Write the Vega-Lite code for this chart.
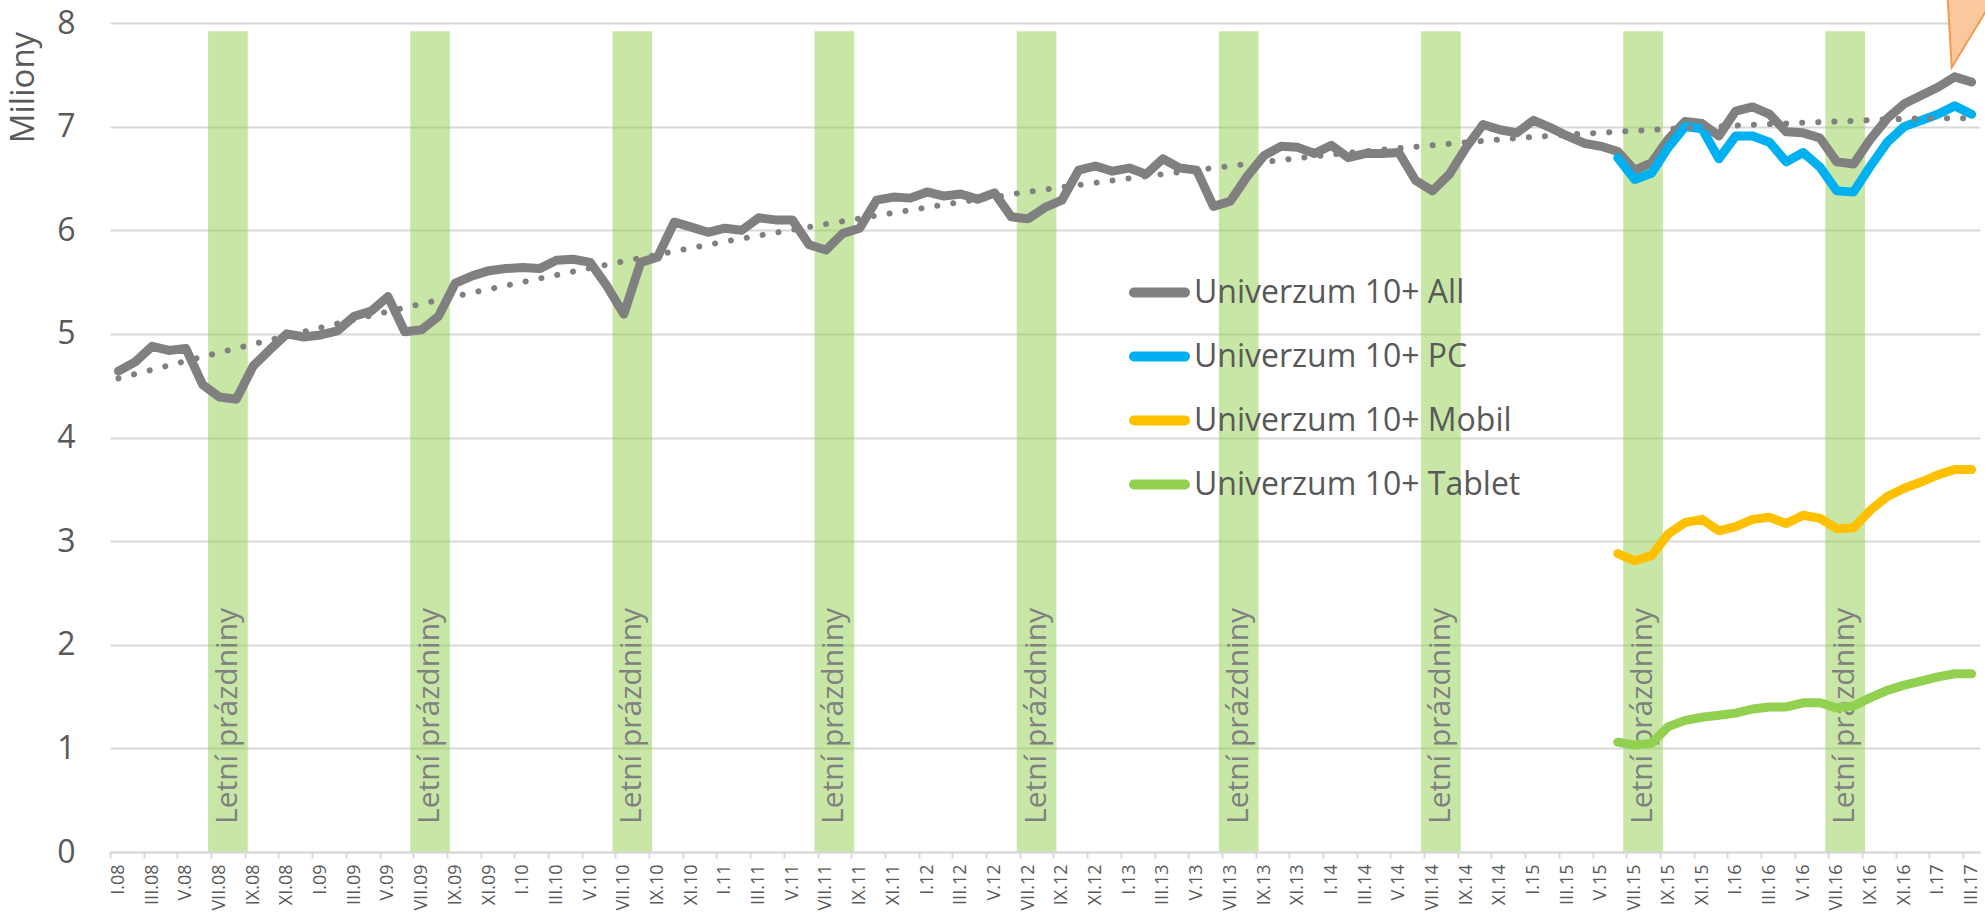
{
  "$schema": "https://vega.github.io/schema/vega-lite/v6.json",
  "width": 1870,
  "height": 829,
  "autosize": {"type": "none"},
  "padding": {"left": 110, "top": 23, "right": 5, "bottom": 63},
  "background": "white",
  "config": {"font": "Open Sans", "view": {"stroke": null}},
  "datasets": {
    "summers": [
      {"m": "VII.08", "b": "IX.08", "v": 7.92, "t": "Letní prázdniny"},
      {"m": "VII.09", "b": "IX.09", "v": 7.92, "t": "Letní prázdniny"},
      {"m": "VII.10", "b": "IX.10", "v": 7.92, "t": "Letní prázdniny"},
      {"m": "VII.11", "b": "IX.11", "v": 7.92, "t": "Letní prázdniny"},
      {"m": "VII.12", "b": "IX.12", "v": 7.92, "t": "Letní prázdniny"},
      {"m": "VII.13", "b": "IX.13", "v": 7.92, "t": "Letní prázdniny"},
      {"m": "VII.14", "b": "IX.14", "v": 7.92, "t": "Letní prázdniny"},
      {"m": "VII.15", "b": "IX.15", "v": 7.92, "t": "Letní prázdniny"},
      {"m": "VII.16", "b": "IX.16", "v": 7.92, "t": "Letní prázdniny"}
    ],
    "trend": [
      {"m": "I.08", "v": 4.57}, {"m": "VII.08", "v": 4.82}, {"m": "I.09", "v": 5.06}, {"m": "VII.09", "v": 5.29},
      {"m": "I.10", "v": 5.50}, {"m": "VII.10", "v": 5.70}, {"m": "I.11", "v": 5.89}, {"m": "VII.11", "v": 6.06},
      {"m": "I.12", "v": 6.22}, {"m": "VII.12", "v": 6.37}, {"m": "I.13", "v": 6.50}, {"m": "VII.13", "v": 6.62},
      {"m": "I.14", "v": 6.73}, {"m": "VII.14", "v": 6.82}, {"m": "I.15", "v": 6.90}, {"m": "VII.15", "v": 6.96},
      {"m": "I.16", "v": 7.01}, {"m": "VII.16", "v": 7.05}, {"m": "I.17", "v": 7.08}, {"m": "III.17", "v": 7.08}
    ],
    "callout": [{"m": "II.17", "v": 7.57}],
    "series": [
      {"m": "I.08", "s": "Univerzum 10+ All", "v": 4.64}, {"m": "II.08", "s": "Univerzum 10+ All", "v": 4.73}, {"m": "III.08", "s": "Univerzum 10+ All", "v": 4.88}, {"m": "IV.08", "s": "Univerzum 10+ All", "v": 4.84}, {"m": "V.08", "s": "Univerzum 10+ All", "v": 4.86}, {"m": "VI.08", "s": "Univerzum 10+ All", "v": 4.51}, {"m": "VII.08", "s": "Univerzum 10+ All", "v": 4.39}, {"m": "VIII.08", "s": "Univerzum 10+ All", "v": 4.37}, {"m": "IX.08", "s": "Univerzum 10+ All", "v": 4.69}, {"m": "X.08", "s": "Univerzum 10+ All", "v": 4.85}, {"m": "XI.08", "s": "Univerzum 10+ All", "v": 5.00}, {"m": "XII.08", "s": "Univerzum 10+ All", "v": 4.97},
      {"m": "I.09", "s": "Univerzum 10+ All", "v": 4.99}, {"m": "II.09", "s": "Univerzum 10+ All", "v": 5.03}, {"m": "III.09", "s": "Univerzum 10+ All", "v": 5.17}, {"m": "IV.09", "s": "Univerzum 10+ All", "v": 5.22}, {"m": "V.09", "s": "Univerzum 10+ All", "v": 5.36}, {"m": "VI.09", "s": "Univerzum 10+ All", "v": 5.02}, {"m": "VII.09", "s": "Univerzum 10+ All", "v": 5.04}, {"m": "VIII.09", "s": "Univerzum 10+ All", "v": 5.17}, {"m": "IX.09", "s": "Univerzum 10+ All", "v": 5.49}, {"m": "X.09", "s": "Univerzum 10+ All", "v": 5.56}, {"m": "XI.09", "s": "Univerzum 10+ All", "v": 5.61}, {"m": "XII.09", "s": "Univerzum 10+ All", "v": 5.63},
      {"m": "I.10", "s": "Univerzum 10+ All", "v": 5.64}, {"m": "II.10", "s": "Univerzum 10+ All", "v": 5.63}, {"m": "III.10", "s": "Univerzum 10+ All", "v": 5.71}, {"m": "IV.10", "s": "Univerzum 10+ All", "v": 5.72}, {"m": "V.10", "s": "Univerzum 10+ All", "v": 5.69}, {"m": "VI.10", "s": "Univerzum 10+ All", "v": 5.46}, {"m": "VII.10", "s": "Univerzum 10+ All", "v": 5.19}, {"m": "VIII.10", "s": "Univerzum 10+ All", "v": 5.69}, {"m": "IX.10", "s": "Univerzum 10+ All", "v": 5.74}, {"m": "X.10", "s": "Univerzum 10+ All", "v": 6.08}, {"m": "XI.10", "s": "Univerzum 10+ All", "v": 6.03}, {"m": "XII.10", "s": "Univerzum 10+ All", "v": 5.98},
      {"m": "I.11", "s": "Univerzum 10+ All", "v": 6.02}, {"m": "II.11", "s": "Univerzum 10+ All", "v": 6.00}, {"m": "III.11", "s": "Univerzum 10+ All", "v": 6.12}, {"m": "IV.11", "s": "Univerzum 10+ All", "v": 6.10}, {"m": "V.11", "s": "Univerzum 10+ All", "v": 6.10}, {"m": "VI.11", "s": "Univerzum 10+ All", "v": 5.86}, {"m": "VII.11", "s": "Univerzum 10+ All", "v": 5.81}, {"m": "VIII.11", "s": "Univerzum 10+ All", "v": 5.97}, {"m": "IX.11", "s": "Univerzum 10+ All", "v": 6.02}, {"m": "X.11", "s": "Univerzum 10+ All", "v": 6.29}, {"m": "XI.11", "s": "Univerzum 10+ All", "v": 6.32}, {"m": "XII.11", "s": "Univerzum 10+ All", "v": 6.31},
      {"m": "I.12", "s": "Univerzum 10+ All", "v": 6.37}, {"m": "II.12", "s": "Univerzum 10+ All", "v": 6.33}, {"m": "III.12", "s": "Univerzum 10+ All", "v": 6.35}, {"m": "IV.12", "s": "Univerzum 10+ All", "v": 6.30}, {"m": "V.12", "s": "Univerzum 10+ All", "v": 6.36}, {"m": "VI.12", "s": "Univerzum 10+ All", "v": 6.13}, {"m": "VII.12", "s": "Univerzum 10+ All", "v": 6.11}, {"m": "VIII.12", "s": "Univerzum 10+ All", "v": 6.22}, {"m": "IX.12", "s": "Univerzum 10+ All", "v": 6.29}, {"m": "X.12", "s": "Univerzum 10+ All", "v": 6.58}, {"m": "XI.12", "s": "Univerzum 10+ All", "v": 6.62}, {"m": "XII.12", "s": "Univerzum 10+ All", "v": 6.57},
      {"m": "I.13", "s": "Univerzum 10+ All", "v": 6.60}, {"m": "II.13", "s": "Univerzum 10+ All", "v": 6.54}, {"m": "III.13", "s": "Univerzum 10+ All", "v": 6.69}, {"m": "IV.13", "s": "Univerzum 10+ All", "v": 6.60}, {"m": "V.13", "s": "Univerzum 10+ All", "v": 6.58}, {"m": "VI.13", "s": "Univerzum 10+ All", "v": 6.23}, {"m": "VII.13", "s": "Univerzum 10+ All", "v": 6.28}, {"m": "VIII.13", "s": "Univerzum 10+ All", "v": 6.52}, {"m": "IX.13", "s": "Univerzum 10+ All", "v": 6.72}, {"m": "X.13", "s": "Univerzum 10+ All", "v": 6.81}, {"m": "XI.13", "s": "Univerzum 10+ All", "v": 6.80}, {"m": "XII.13", "s": "Univerzum 10+ All", "v": 6.74},
      {"m": "I.14", "s": "Univerzum 10+ All", "v": 6.82}, {"m": "II.14", "s": "Univerzum 10+ All", "v": 6.70}, {"m": "III.14", "s": "Univerzum 10+ All", "v": 6.74}, {"m": "IV.14", "s": "Univerzum 10+ All", "v": 6.74}, {"m": "V.14", "s": "Univerzum 10+ All", "v": 6.75}, {"m": "VI.14", "s": "Univerzum 10+ All", "v": 6.48}, {"m": "VII.14", "s": "Univerzum 10+ All", "v": 6.38}, {"m": "VIII.14", "s": "Univerzum 10+ All", "v": 6.54}, {"m": "IX.14", "s": "Univerzum 10+ All", "v": 6.80}, {"m": "X.14", "s": "Univerzum 10+ All", "v": 7.02}, {"m": "XI.14", "s": "Univerzum 10+ All", "v": 6.97}, {"m": "XII.14", "s": "Univerzum 10+ All", "v": 6.94},
      {"m": "I.15", "s": "Univerzum 10+ All", "v": 7.06}, {"m": "II.15", "s": "Univerzum 10+ All", "v": 6.99}, {"m": "III.15", "s": "Univerzum 10+ All", "v": 6.91}, {"m": "IV.15", "s": "Univerzum 10+ All", "v": 6.84}, {"m": "V.15", "s": "Univerzum 10+ All", "v": 6.81}, {"m": "VI.15", "s": "Univerzum 10+ All", "v": 6.76}, {"m": "VII.15", "s": "Univerzum 10+ All", "v": 6.58}, {"m": "VIII.15", "s": "Univerzum 10+ All", "v": 6.65}, {"m": "IX.15", "s": "Univerzum 10+ All", "v": 6.88}, {"m": "X.15", "s": "Univerzum 10+ All", "v": 7.05}, {"m": "XI.15", "s": "Univerzum 10+ All", "v": 7.03}, {"m": "XII.15", "s": "Univerzum 10+ All", "v": 6.91},
      {"m": "I.16", "s": "Univerzum 10+ All", "v": 7.15}, {"m": "II.16", "s": "Univerzum 10+ All", "v": 7.19}, {"m": "III.16", "s": "Univerzum 10+ All", "v": 7.12}, {"m": "IV.16", "s": "Univerzum 10+ All", "v": 6.95}, {"m": "V.16", "s": "Univerzum 10+ All", "v": 6.94}, {"m": "VI.16", "s": "Univerzum 10+ All", "v": 6.89}, {"m": "VII.16", "s": "Univerzum 10+ All", "v": 6.66}, {"m": "VIII.16", "s": "Univerzum 10+ All", "v": 6.64}, {"m": "IX.16", "s": "Univerzum 10+ All", "v": 6.88}, {"m": "X.16", "s": "Univerzum 10+ All", "v": 7.08}, {"m": "XI.16", "s": "Univerzum 10+ All", "v": 7.22}, {"m": "XII.16", "s": "Univerzum 10+ All", "v": 7.30},
      {"m": "I.17", "s": "Univerzum 10+ All", "v": 7.38}, {"m": "II.17", "s": "Univerzum 10+ All", "v": 7.48}, {"m": "III.17", "s": "Univerzum 10+ All", "v": 7.43},
      {"m": "VI.15", "s": "Univerzum 10+ PC", "v": 6.70}, {"m": "VII.15", "s": "Univerzum 10+ PC", "v": 6.49}, {"m": "VIII.15", "s": "Univerzum 10+ PC", "v": 6.55}, {"m": "IX.15", "s": "Univerzum 10+ PC", "v": 6.80}, {"m": "X.15", "s": "Univerzum 10+ PC", "v": 7.00}, {"m": "XI.15", "s": "Univerzum 10+ PC", "v": 6.98}, {"m": "XII.15", "s": "Univerzum 10+ PC", "v": 6.69}, {"m": "I.16", "s": "Univerzum 10+ PC", "v": 6.91}, {"m": "II.16", "s": "Univerzum 10+ PC", "v": 6.91}, {"m": "III.16", "s": "Univerzum 10+ PC", "v": 6.85}, {"m": "IV.16", "s": "Univerzum 10+ PC", "v": 6.66}, {"m": "V.16", "s": "Univerzum 10+ PC", "v": 6.75}, {"m": "VI.16", "s": "Univerzum 10+ PC", "v": 6.61}, {"m": "VII.16", "s": "Univerzum 10+ PC", "v": 6.38}, {"m": "VIII.16", "s": "Univerzum 10+ PC", "v": 6.37}, {"m": "IX.16", "s": "Univerzum 10+ PC", "v": 6.62}, {"m": "X.16", "s": "Univerzum 10+ PC", "v": 6.85}, {"m": "XI.16", "s": "Univerzum 10+ PC", "v": 7.00}, {"m": "XII.16", "s": "Univerzum 10+ PC", "v": 7.06}, {"m": "I.17", "s": "Univerzum 10+ PC", "v": 7.12}, {"m": "II.17", "s": "Univerzum 10+ PC", "v": 7.20}, {"m": "III.17", "s": "Univerzum 10+ PC", "v": 7.12},
      {"m": "VI.15", "s": "Univerzum 10+ Mobil", "v": 2.88}, {"m": "VII.15", "s": "Univerzum 10+ Mobil", "v": 2.81}, {"m": "VIII.15", "s": "Univerzum 10+ Mobil", "v": 2.86}, {"m": "IX.15", "s": "Univerzum 10+ Mobil", "v": 3.07}, {"m": "X.15", "s": "Univerzum 10+ Mobil", "v": 3.18}, {"m": "XI.15", "s": "Univerzum 10+ Mobil", "v": 3.21}, {"m": "XII.15", "s": "Univerzum 10+ Mobil", "v": 3.10}, {"m": "I.16", "s": "Univerzum 10+ Mobil", "v": 3.14}, {"m": "II.16", "s": "Univerzum 10+ Mobil", "v": 3.21}, {"m": "III.16", "s": "Univerzum 10+ Mobil", "v": 3.23}, {"m": "IV.16", "s": "Univerzum 10+ Mobil", "v": 3.17}, {"m": "V.16", "s": "Univerzum 10+ Mobil", "v": 3.25}, {"m": "VI.16", "s": "Univerzum 10+ Mobil", "v": 3.22}, {"m": "VII.16", "s": "Univerzum 10+ Mobil", "v": 3.12}, {"m": "VIII.16", "s": "Univerzum 10+ Mobil", "v": 3.13}, {"m": "IX.16", "s": "Univerzum 10+ Mobil", "v": 3.30}, {"m": "X.16", "s": "Univerzum 10+ Mobil", "v": 3.43}, {"m": "XI.16", "s": "Univerzum 10+ Mobil", "v": 3.51}, {"m": "XII.16", "s": "Univerzum 10+ Mobil", "v": 3.57}, {"m": "I.17", "s": "Univerzum 10+ Mobil", "v": 3.64}, {"m": "II.17", "s": "Univerzum 10+ Mobil", "v": 3.69}, {"m": "III.17", "s": "Univerzum 10+ Mobil", "v": 3.69},
      {"m": "VI.15", "s": "Univerzum 10+ Tablet", "v": 1.06}, {"m": "VII.15", "s": "Univerzum 10+ Tablet", "v": 1.03}, {"m": "VIII.15", "s": "Univerzum 10+ Tablet", "v": 1.05}, {"m": "IX.15", "s": "Univerzum 10+ Tablet", "v": 1.21}, {"m": "X.15", "s": "Univerzum 10+ Tablet", "v": 1.27}, {"m": "XI.15", "s": "Univerzum 10+ Tablet", "v": 1.30}, {"m": "XII.15", "s": "Univerzum 10+ Tablet", "v": 1.32}, {"m": "I.16", "s": "Univerzum 10+ Tablet", "v": 1.34}, {"m": "II.16", "s": "Univerzum 10+ Tablet", "v": 1.38}, {"m": "III.16", "s": "Univerzum 10+ Tablet", "v": 1.40}, {"m": "IV.16", "s": "Univerzum 10+ Tablet", "v": 1.40}, {"m": "V.16", "s": "Univerzum 10+ Tablet", "v": 1.44}, {"m": "VI.16", "s": "Univerzum 10+ Tablet", "v": 1.44}, {"m": "VII.16", "s": "Univerzum 10+ Tablet", "v": 1.39}, {"m": "VIII.16", "s": "Univerzum 10+ Tablet", "v": 1.41}, {"m": "IX.16", "s": "Univerzum 10+ Tablet", "v": 1.49}, {"m": "X.16", "s": "Univerzum 10+ Tablet", "v": 1.56}, {"m": "XI.16", "s": "Univerzum 10+ Tablet", "v": 1.61}, {"m": "XII.16", "s": "Univerzum 10+ Tablet", "v": 1.65}, {"m": "I.17", "s": "Univerzum 10+ Tablet", "v": 1.69}, {"m": "II.17", "s": "Univerzum 10+ Tablet", "v": 1.72}, {"m": "III.17", "s": "Univerzum 10+ Tablet", "v": 1.72}
    ]
  },
  "layer": [
    {
      "data": {"name": "summers"},
      "mark": {"type": "rect", "color": "#92d050", "opacity": 0.5, "xOffset": -3, "x2Offset": 3},
      "encoding": {
        "x": {
          "field": "m", "type": "ordinal", "bandPosition": 0,
          "scale": {"type": "band", "paddingInner": 0, "paddingOuter": 0, "align": 0,
            "domain": ["I.08","II.08","III.08","IV.08","V.08","VI.08","VII.08","VIII.08","IX.08","X.08","XI.08","XII.08",
                       "I.09","II.09","III.09","IV.09","V.09","VI.09","VII.09","VIII.09","IX.09","X.09","XI.09","XII.09",
                       "I.10","II.10","III.10","IV.10","V.10","VI.10","VII.10","VIII.10","IX.10","X.10","XI.10","XII.10",
                       "I.11","II.11","III.11","IV.11","V.11","VI.11","VII.11","VIII.11","IX.11","X.11","XI.11","XII.11",
                       "I.12","II.12","III.12","IV.12","V.12","VI.12","VII.12","VIII.12","IX.12","X.12","XI.12","XII.12",
                       "I.13","II.13","III.13","IV.13","V.13","VI.13","VII.13","VIII.13","IX.13","X.13","XI.13","XII.13",
                       "I.14","II.14","III.14","IV.14","V.14","VI.14","VII.14","VIII.14","IX.14","X.14","XI.14","XII.14",
                       "I.15","II.15","III.15","IV.15","V.15","VI.15","VII.15","VIII.15","IX.15","X.15","XI.15","XII.15",
                       "I.16","II.16","III.16","IV.16","V.16","VI.16","VII.16","VIII.16","IX.16","X.16","XI.16","XII.16",
                       "I.17","II.17","III.17"]},
          "axis": {
            "title": null,
            "values": ["I.08","III.08","V.08","VII.08","IX.08","XI.08","I.09","III.09","V.09","VII.09","IX.09","XI.09",
                       "I.10","III.10","V.10","VII.10","IX.10","XI.10","I.11","III.11","V.11","VII.11","IX.11","XI.11",
                       "I.12","III.12","V.12","VII.12","IX.12","XI.12","I.13","III.13","V.13","VII.13","IX.13","XI.13",
                       "I.14","III.14","V.14","VII.14","IX.14","XI.14","I.15","III.15","V.15","VII.15","IX.15","XI.15",
                       "I.16","III.16","V.16","VII.16","IX.16","XI.16","I.17","III.17"],
            "bandPosition": 0.5,
            "tickOffset": -8.42,
            "labelOffset": 8.42,
            "labelAngle": -90,
            "labelAlign": "right",
            "labelBaseline": "middle",
            "labelFontSize": 18,
            "labelColor": "#595959",
            "labelPadding": 6,
            "labelOverlap": false,
            "tickColor": "#d9d9d9",
            "tickSize": 6,
            "tickWidth": 2,
            "domainColor": "#d9d9d9",
            "domainWidth": 2,
            "grid": false
          }
        },
        "x2": {"field": "b", "bandPosition": 0},
        "y": {
          "field": "v", "type": "quantitative",
          "scale": {"domain": [0, 8], "nice": false},
          "axis": {
            "title": "Miliony",
            "values": [0, 1, 2, 3, 4, 5, 6, 7, 8],
            "format": "d",
            "grid": true,
            "gridColor": "#d9d9d9",
            "gridWidth": 2,
            "domain": false,
            "ticks": false,
            "labelFontSize": 32,
            "labelColor": "#595959",
            "labelPadding": 35,
            "titleFontSize": 33,
            "titleFontWeight": "normal",
            "titleColor": "#595959",
            "titleBaseline": "alphabetic",
            "titleX": -77,
            "titleY": 64
          }
        },
        "y2": {"datum": 0}
      }
    },
    {
      "data": {"name": "summers"},
      "mark": {"type": "text", "angle": 270, "align": "left", "baseline": "middle", "fontSize": 30, "color": "#808080", "dx": 28, "dy": 0},
      "encoding": {
        "x": {"field": "m", "type": "ordinal", "bandPosition": 1},
        "y": {"datum": 0, "type": "quantitative"},
        "text": {"field": "t"}
      }
    },
    {
      "data": {"name": "series"},
      "mark": {"type": "line", "strokeWidth": 9, "strokeCap": "round", "strokeJoin": "round"},
      "encoding": {
        "x": {"field": "m", "type": "ordinal", "sort": null},
        "y": {"field": "v", "type": "quantitative"},
        "color": {
          "field": "s", "type": "nominal",
          "scale": {"domain": ["Univerzum 10+ All", "Univerzum 10+ PC", "Univerzum 10+ Mobil", "Univerzum 10+ Tablet"],
                    "range": ["#808080", "#00b0f0", "#ffc000", "#92d050"]},
          "legend": {
            "orient": "none", "legendX": 1019, "legendY": 239, "title": null,
            "symbolType": "stroke", "symbolSize": 2601, "symbolStrokeWidth": 10,
            "labelFontSize": 32, "labelColor": "#595959", "labelOffset": 4, "labelLimit": 0,
            "rowPadding": 13, "padding": 0,
            "encode": {"symbols": {"update": {"strokeCap": {"value": "round"}}}}
          }
        }
      }
    },
    {
      "data": {"name": "trend"},
      "mark": {"type": "line", "color": "#808080", "strokeWidth": 6, "strokeCap": "round", "strokeDash": [0.1, 16], "interpolate": "monotone"},
      "encoding": {
        "x": {"field": "m", "type": "ordinal", "sort": null},
        "y": {"field": "v", "type": "quantitative"}
      }
    },
    {
      "data": {"name": "callout"},
      "mark": {"type": "point", "shape": "M-3,0L-7.4,-75L42.4,-75Z", "size": 4, "filled": true, "fill": "#fbc89d", "stroke": "#f39c4f", "strokeWidth": 2, "opacity": 1},
      "encoding": {
        "x": {"field": "m", "type": "ordinal"},
        "y": {"field": "v", "type": "quantitative"}
      }
    }
  ]
}
